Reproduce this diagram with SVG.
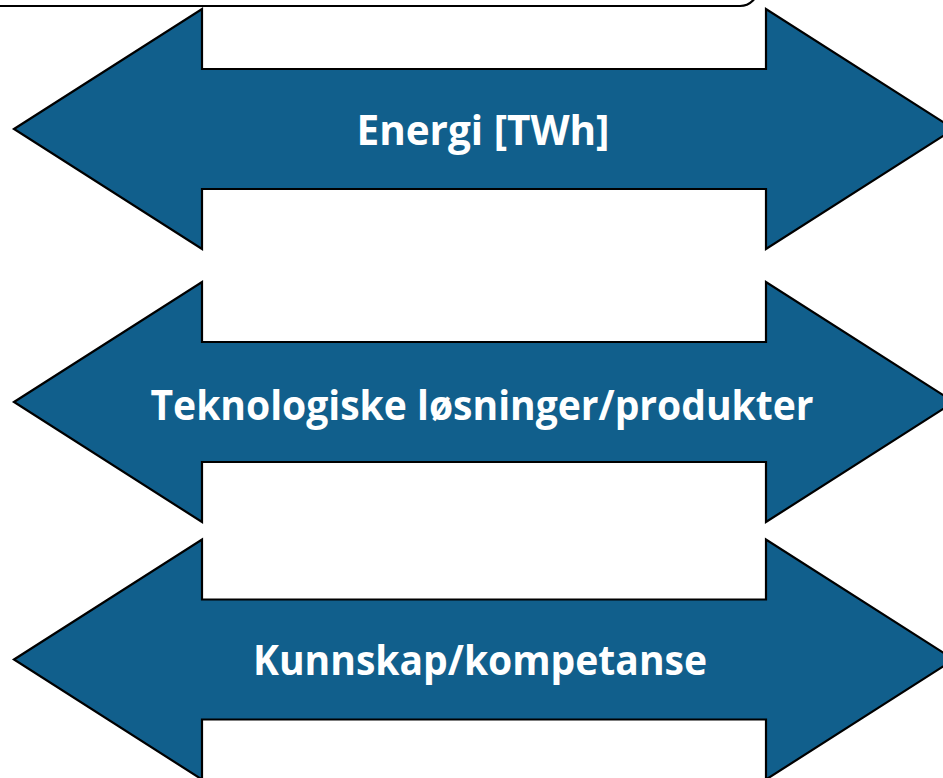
<svg xmlns="http://www.w3.org/2000/svg" width="943" height="778" viewBox="0 0 943 778">
<style>
.arrow{fill:#115F8C;stroke:#000;stroke-width:2.2;stroke-linejoin:miter}
.lbl{font-family:"Open Sans","Noto Sans","Liberation Sans",sans-serif;font-weight:bold;font-size:42px;fill:#fff;text-anchor:middle}
</style>
<rect width="943" height="778" fill="#fff"/>
<g id="top-box">
<rect x="-20" y="-60" width="778" height="66" rx="18" ry="18" fill="#fff" stroke="#000" stroke-width="2.2"/>
</g>
<g id="arrow-energi">
<polygon class="arrow" points="14,129 202,9 202,69 766,69 766,9 954,129 766,249 766,189 202,189 202,249"/>
<text class="lbl" x="483" y="145" textLength="253" lengthAdjust="spacingAndGlyphs">Energi [TWh]</text>
</g>
<g id="arrow-teknologi">
<polygon class="arrow" points="14,402 202,282 202,342 766,342 766,282 954,402 766,522 766,462 202,462 202,522"/>
<text class="lbl" x="482" y="420" textLength="663" lengthAdjust="spacingAndGlyphs">Teknologiske løsninger/produkter</text>
</g>
<g id="arrow-kunnskap">
<polygon class="arrow" points="14,659.5 202,539.5 202,599.5 766,599.5 766,539.5 954,659.5 766,779.5 766,719.5 202,719.5 202,779.5"/>
<text class="lbl" x="480" y="675" textLength="454" lengthAdjust="spacingAndGlyphs">Kunnskap/kompetanse</text>
</g>
<g id="connectors"/>
</svg>
